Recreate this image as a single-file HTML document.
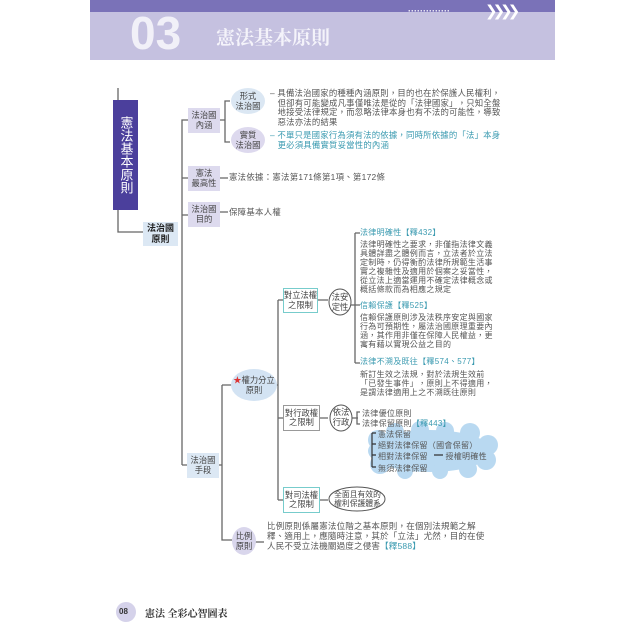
<!DOCTYPE html>
<html><head><meta charset="utf-8"><style>
body{margin:0;width:640px;height:640px;background:#fff;position:relative;overflow:hidden;font-family:"Liberation Sans","Noto Sans CJK TC",sans-serif;color:#444}
.a{position:absolute;white-space:nowrap}
.t{font-size:8px;letter-spacing:0.3px;line-height:8.9px;color:#555}
.box{position:absolute;font-size:8.3px;line-height:9.5px;display:flex;align-items:center;justify-content:center;text-align:center;white-space:nowrap}
</style></head><body>
<div class="a" style="left:90px;top:0;width:465px;height:12px;background:#7a72b8"></div>
<div class="a" style="left:90px;top:12px;width:465px;height:48px;background:#c5c1e0"></div>
<div class="a" style="left:130px;top:6px;font:bold 46px 'Liberation Sans',sans-serif;color:#f1f0f8">03</div>
<div class="a" style="left:216px;top:23px;font:bold 19px 'Noto Serif CJK SC',serif;color:#f4f3fa">憲法基本原則</div>
<div class="a" style="left:408px;top:6px;font:bold 9px sans-serif;color:#fff">··············</div>
<div class="a" style="left:485px;top:2px;font:bold 15px 'DejaVu Sans',sans-serif;color:#fff;letter-spacing:-5px">❯❯❯❯</div>

<svg class="a" style="left:0;top:0" width="640" height="640">
<g fill="none" stroke="#666" stroke-width="1.3">
<path d="M118 88V232H143"/>
<path d="M182 465V120H188M182 178H188M182 215H188M182 465H188"/>
<path d="M220 120H225M230 101H225V142H230"/>
<path d="M220 178H228M220 212H228"/>
<path d="M218 465H222M222 385V540H232M222 385H232"/>
<path d="M278 300V500M278 300H283M278 418H283M278 500H283M275 385H278"/>
<path d="M318 300H328M320 418H328M320 500H328"/>
<path d="M355 233V363M355 233H360M350 305H360M355 363H360"/>
<path d="M352 418H358M360 412H357V424H360"/>
<path d="M255 542H264"/>
</g>
<g fill="#b9d9f1">
<ellipse cx="430" cy="451" rx="62" ry="21"/>
<circle cx="378" cy="440" r="10"/><circle cx="395" cy="432" r="9"/><circle cx="420" cy="430" r="9"/><circle cx="445" cy="431" r="9"/><circle cx="470" cy="433" r="10"/><circle cx="488" cy="445" r="10"/><circle cx="486" cy="460" r="10"/><circle cx="468" cy="469" r="9"/><circle cx="440" cy="471" r="8"/><circle cx="405" cy="471" r="8"/><circle cx="380" cy="464" r="10"/>
</g>
<g fill="none" stroke="#333" stroke-width="1.2"><path d="M372 433V467M372 433H376M372 444H376M372 455H376M372 467H376M434 455H443"/></g>
<ellipse cx="248" cy="101" rx="17" ry="13" fill="#dbe7f3"/>
<ellipse cx="248" cy="140" rx="17" ry="13" fill="#ddd9ee"/>
<ellipse cx="254" cy="385" rx="23" ry="16" fill="#d3e3f3"/>
<ellipse cx="244" cy="541" rx="12" ry="14" fill="#d9d6ec"/>
<ellipse cx="340" cy="302" rx="11" ry="13" fill="#fff" stroke="#555"/>
<ellipse cx="341" cy="418" rx="11" ry="13" fill="#fff" stroke="#555"/>
<ellipse cx="357" cy="499" rx="28" ry="12" fill="#fff" stroke="#555"/>
<circle cx="126" cy="612" r="10" fill="#d5d2ea"/>
</svg>

<div class="box" style="left:113px;top:100px;width:25px;height:110px;background:#4b3f9c;color:#fff;font-size:13px;line-height:16px;writing-mode:vertical-rl">憲法基本原則</div>
<div class="box" style="left:143px;top:222px;width:35px;height:24px;background:#dce8f4;color:#222;font-weight:bold;font-size:9px;line-height:11px">法治國<br>原則</div>
<div class="box" style="left:188px;top:108px;width:32px;height:25px;background:#dddaee">法治國<br>內涵</div>
<div class="box" style="left:188px;top:166px;width:32px;height:25px;background:#dddaee">憲法<br>最高性</div>
<div class="box" style="left:188px;top:202px;width:32px;height:25px;background:#dddaee">法治國<br>目的</div>
<div class="box" style="left:187px;top:453px;width:32px;height:25px;background:#dce8f4">法治國<br>手段</div>
<div class="box" style="left:231px;top:89px;width:34px;height:25px">形式<br>法治國</div>
<div class="box" style="left:231px;top:128px;width:34px;height:25px">實質<br>法治國</div>
<div class="box" style="left:232px;top:373px;width:44px;height:25px"><span><span style="color:#d33">★</span>權力分立<br>原則</span></div>
<div class="box" style="left:232px;top:529px;width:24px;height:25px">比例<br>原則</div>
<div class="box" style="left:283px;top:288px;width:35px;height:25px;border:1px solid #7cc;box-sizing:border-box">對立法權<br>之限制</div>
<div class="box" style="left:283px;top:405px;width:37px;height:26px;border:1px solid #999;box-sizing:border-box">對行政權<br>之限制</div>
<div class="box" style="left:283px;top:487px;width:37px;height:26px;border:1px solid #7cc;box-sizing:border-box">對司法權<br>之限制</div>
<div class="box" style="left:329px;top:290px;width:22px;height:25px">法安<br>定性</div>
<div class="box" style="left:330px;top:405px;width:22px;height:25px">依法<br>行政</div>
<div class="box" style="left:330px;top:488px;width:55px;height:22px;font-size:7.8px;line-height:9px">全面且有效的<br>權利保護體系</div>

<div class="a t" style="left:270px;top:89px;font-size:8.4px;letter-spacing:0.2px;line-height:9.6px">– 具備法治國家的種種內涵原則，目的也在於保護人民權利，<br>&nbsp;&nbsp;&nbsp;但卻有可能變成凡事僅唯法是從的「法律國家」，只知全盤<br>&nbsp;&nbsp;&nbsp;地接受法律規定，而忽略法律本身也有不法的可能性，導致<br>&nbsp;&nbsp;&nbsp;惡法亦法的結果</div>
<div class="a t" style="left:270px;top:131px;font-size:8.4px;letter-spacing:0.2px;line-height:9.6px;color:#3a9ab0">– 不單只是國家行為須有法的依據，同時所依據的「法」本身<br>&nbsp;&nbsp;&nbsp;更必須具備實質妥當性的內涵</div>
<div class="a t" style="left:229px;top:173px;font-size:8.4px">憲法依據：憲法第171條第1項、第172條</div>
<div class="a t" style="left:229px;top:208px;font-size:8.4px">保障基本人權</div>
<div class="a t" style="left:360px;top:229px"><span style="color:#3a9ab0">法律明確性【釋432】</span></div>
<div class="a t" style="left:360px;top:241px">法律明確性之要求，非僅指法律文義<br>具體詳盡之體例而言，立法者於立法<br>定制時，仍得衡酌法律所規範生活事<br>實之複雜性及適用於個案之妥當性，<br>從立法上適當運用不確定法律概念或<br>概括條款而為相應之規定</div>
<div class="a t" style="left:360px;top:302px"><span style="color:#3a9ab0">信賴保護【釋525】</span></div>
<div class="a t" style="left:360px;top:314px">信賴保護原則涉及法秩序安定與國家<br>行為可預期性，屬法治國原理重要內<br>涵，其作用非僅在保障人民權益，更<br>寓有藉以實現公益之目的</div>
<div class="a t" style="left:360px;top:358px"><span style="color:#3a9ab0">法律不溯及既往【釋574、577】</span></div>
<div class="a t" style="left:360px;top:371px">新訂生效之法規，對於法規生效前<br>「已發生事件」，原則上不得適用，<br>是謂法律適用上之不溯既往原則</div>
<div class="a t" style="left:362px;top:409px;line-height:10px">法律優位原則<br>法律保留原則<span style="color:#3a9ab0">【釋443】</span></div>
<div class="a t" style="left:378px;top:429px;line-height:11.2px">憲法保留<br>絕對法律保留（國會保留）<br>相對法律保留 &nbsp;&nbsp;&nbsp;&nbsp;&nbsp;&nbsp;授權明確性<br>無須法律保留</div>
<div class="a t" style="left:267px;top:521px;font-size:8.5px;letter-spacing:0.2px;line-height:10px">比例原則係屬憲法位階之基本原則，在個別法規範之解<br>釋、適用上，應隨時注意，其於「立法」尤然，目的在使<br>人民不受立法機關過度之侵害<span style="color:#3a9ab0">【釋588】</span></div>
<div class="a" style="left:119px;top:607px;font:bold 8px sans-serif;color:#333">08</div>
<div class="a" style="left:145px;top:605px;font:bold 10px 'Noto Serif CJK SC',serif;color:#333">憲法 全彩心智圖表</div>
</body></html>
